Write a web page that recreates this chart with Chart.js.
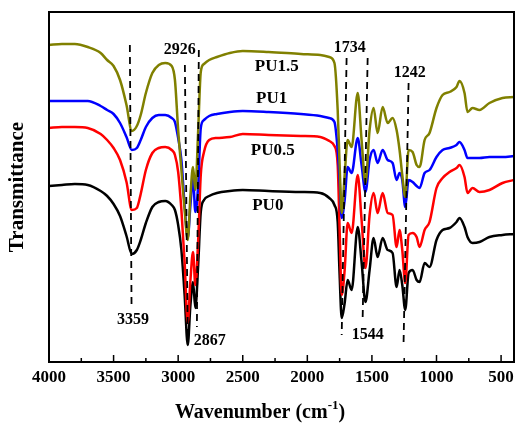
<!DOCTYPE html>
<html>
<head>
<meta charset="utf-8">
<script src="https://cdn.jsdelivr.net/npm/chart.js@4.4.1/dist/chart.umd.min.js"></script>
<style>
  html, body { margin: 0; padding: 0; background: #fff; }
  #wrap { width: 515px; height: 423px; }
</style>
</head>
<body>
<div id="wrap"><canvas id="ftir" width="515" height="423"></canvas></div>
<script>
// wavenumbers (cm-1) shared by all spectra
const wavenumbers = [4000, 3900, 3800, 3700, 3600, 3550, 3500, 3450, 3400, 3359,
  3320, 3290, 3250, 3200, 3150, 3100, 3050, 3025, 3000, 2975,
  2950, 2926, 2905, 2885, 2867, 2845, 2825, 2800, 2760, 2700,
  2600, 2500, 2300, 2050, 1900, 1830, 1790, 1765, 1750, 1734,
  1711, 1688, 1657, 1610, 1580, 1550, 1518, 1487, 1456, 1417,
  1378, 1340, 1309, 1286, 1265, 1242, 1216, 1185, 1154, 1131,
  1092, 1054, 1000, 953, 899, 845, 822, 783, 760, 721,
  667, 590, 489, 400];

// transmittance, arbitrary units (curves are stacked)
const pu15 = [317, 318, 318, 315, 309, 302, 296, 282, 257, 231,
  236, 247, 269, 289, 297, 299, 296, 282, 232, 192,
  152, 122, 167, 195, 172, 232, 290, 298, 302, 305,
  309, 311, 310, 308, 307, 305, 299, 252, 197, 149,
  187, 222, 215, 269, 222, 179, 232, 254, 229, 255,
  239, 244, 232, 212, 187, 165, 212, 210, 197, 195,
  222, 229, 254, 267, 270, 275, 281, 269, 250, 254,
  252, 259, 264, 265];
const pu1 = [261, 261, 261, 261, 256, 252, 248, 239, 225, 212,
  214, 222, 235, 244, 247, 247, 244, 240, 224, 202,
  157, 124, 157, 184, 150, 177, 234, 242, 246, 248,
  250, 251, 250, 248, 246, 244, 240, 212, 182, 144,
  162, 195, 189, 224, 197, 170, 202, 212, 199, 212,
  202, 199, 182, 189, 182, 155, 182, 180, 176, 174,
  189, 192, 205, 212, 214, 217, 220, 212, 204, 204,
  204, 205, 205, 206];
const pu05 = [234, 235, 235, 234, 228, 222, 214, 202, 180, 152,
  154, 168, 192, 209, 214, 215, 212, 207, 190, 152,
  100, 39, 82, 110, 77, 122, 187, 210, 222, 224,
  225, 228, 227, 226, 225, 221, 216, 197, 132, 67,
  92, 139, 129, 187, 142, 94, 147, 169, 149, 169,
  149, 147, 115, 132, 112, 79, 127, 129, 125, 115,
  132, 140, 174, 184, 190, 194, 197, 185, 169, 174,
  170, 172, 179, 182];
const pu0 = [176, 177, 178, 177, 171, 166, 158, 146, 126, 108,
  112, 122, 139, 155, 160, 161, 157, 152, 137, 112,
  67, 17, 57, 80, 54, 97, 150, 162, 166, 169,
  171, 172, 171, 170, 169, 164, 157, 140, 87, 44,
  59, 82, 72, 135, 100, 60, 92, 124, 105, 124,
  112, 109, 75, 92, 77, 52, 89, 92, 82, 80,
  99, 95, 122, 132, 134, 140, 144, 135, 125, 119,
  120, 125, 127, 128];

const seriesNames = ["PU1.5", "PU1", "PU0.5", "PU0"];
const seriesValues = [pu15, pu1, pu05, pu0];
const seriesColors = ["#808000", "#0000ff", "#ff0000", "#000000"];

const tickValues = [4000, 3500, 3000, 2500, 2000, 1500, 1000, 500];
const minorTicks = [3750, 3250, 2750, 2250, 1750, 1250, 750];

// peak markers: label, wavenumber at top/bottom of the dashed line
const peakLabels = ["3359", "2926", "2867", "1734", "1544", "1242"];
const peakTopWn = [3374, 2948, 2840, 1696, 1533, 1216];
const peakBottomWn = [3361, 2925, 2855, 1734, 1572, 1255];

const serif = "'Liberation Serif', 'Times New Roman', serif";

// placement of lines and texts, in data units
const lineY = [[317, 55], [297, 17], [312, 35], [304, 27], [304, 42], [279, 19]];
const peakTextPos = [[3350, 42], [2987, 312], [2755, 21], [1672, 314], [1533, 27], [1208, 289]];
const seriesTextPos = [[2237, 295], [2276, 263], [2268, 211], [2306, 156]];

const decoraPlugin = {
  id: "decora",
  afterDatasetsDraw(chart) {
    const { ctx, chartArea: a, scales: { x, y } } = chart;
    ctx.save();
    // dashed marker lines
    ctx.strokeStyle = "#000";
    ctx.lineWidth = 1.8;
    ctx.setLineDash([7, 5]);
    for (let i = 0; i < peakLabels.length; i++) {
      ctx.beginPath();
      ctx.moveTo(x.getPixelForValue(peakTopWn[i]), y.getPixelForValue(lineY[i][0]));
      ctx.lineTo(x.getPixelForValue(peakBottomWn[i]), y.getPixelForValue(lineY[i][1]));
      ctx.stroke();
    }
    ctx.setLineDash([]);

    // texts
    ctx.fillStyle = "#000";
    ctx.textAlign = "center";
    ctx.textBaseline = "middle";
    ctx.font = "bold 16px " + serif;
    peakLabels.forEach((l, i) => {
      const p = peakTextPos[i];
      ctx.fillText(l, x.getPixelForValue(p[0]), y.getPixelForValue(p[1]));
    });
    ctx.font = "bold 17px " + serif;
    seriesNames.forEach((n, i) => {
      const p = seriesTextPos[i];
      ctx.fillText(n, x.getPixelForValue(p[0]), y.getPixelForValue(p[1]));
    });

    // frame
    ctx.lineWidth = 2;
    ctx.strokeRect(a.left, a.top, a.right - a.left, a.bottom - a.top);
    // inward ticks on the bottom axis + labels
    ctx.lineWidth = 1.5;
    ctx.font = "bold 17px " + serif;
    tickValues.forEach(v => {
      const px = x.getPixelForValue(v);
      ctx.beginPath(); ctx.moveTo(px, a.bottom); ctx.lineTo(px, a.bottom - 7); ctx.stroke();
      ctx.fillText(String(v), px, a.bottom + 16);
    });
    minorTicks.forEach(v => {
      const px = x.getPixelForValue(v);
      ctx.beginPath(); ctx.moveTo(px, a.bottom); ctx.lineTo(px, a.bottom - 4); ctx.stroke();
    });

    // y title
    ctx.save();
    ctx.translate(18, (a.top + a.bottom) / 2);
    ctx.rotate(-Math.PI / 2);
    ctx.font = "bold 21px " + serif;
    ctx.fillText("Transmittance", 0, 0);
    ctx.restore();

    // x title with superscript
    const main1 = "Wavenumber (cm", sup = "-1", main2 = ")";
    ctx.font = "bold 20px " + serif;
    const w1 = ctx.measureText(main1).width, w3 = ctx.measureText(main2).width;
    ctx.font = "bold 13px " + serif;
    const w2 = ctx.measureText(sup).width;
    const sx = 260 - (w1 + w2 + w3) / 2;
    const ty = 413;
    ctx.textAlign = "left";
    ctx.font = "bold 20px " + serif;
    ctx.fillText(main1, sx, ty);
    ctx.font = "bold 13px " + serif;
    ctx.fillText(sup, sx + w1, ty - 7);
    ctx.font = "bold 20px " + serif;
    ctx.fillText(main2, sx + w1 + w2, ty);
    ctx.restore();
  }
};

const ctx = document.getElementById("ftir").getContext("2d");
new Chart(ctx, {
  type: "line",
  data: {
    datasets: seriesNames.map((n, i) => ({
      label: n,
      data: wavenumbers.map((w, j) => ({ x: w, y: seriesValues[i][j] })),
      borderColor: seriesColors[i],
      borderWidth: 2.5,
      pointRadius: 0,
      fill: false,
      cubicInterpolationMode: "monotone"
    }))
  },
  options: {
    responsive: false,
    animation: false,
    layout: { padding: { left: 49, right: 1, top: 12, bottom: 61 } },
    plugins: { legend: { display: false }, tooltip: { enabled: false } },
    scales: {
      x: {
        type: "linear",
        reverse: true,
        min: 400,
        max: 4000,
        grid: { display: false, drawTicks: false },
        border: { display: false },
        ticks: { display: false }
      },
      y: { display: false, min: 0, max: 350 }
    }
  },
  plugins: [decoraPlugin]
});
</script>
</body>
</html>
